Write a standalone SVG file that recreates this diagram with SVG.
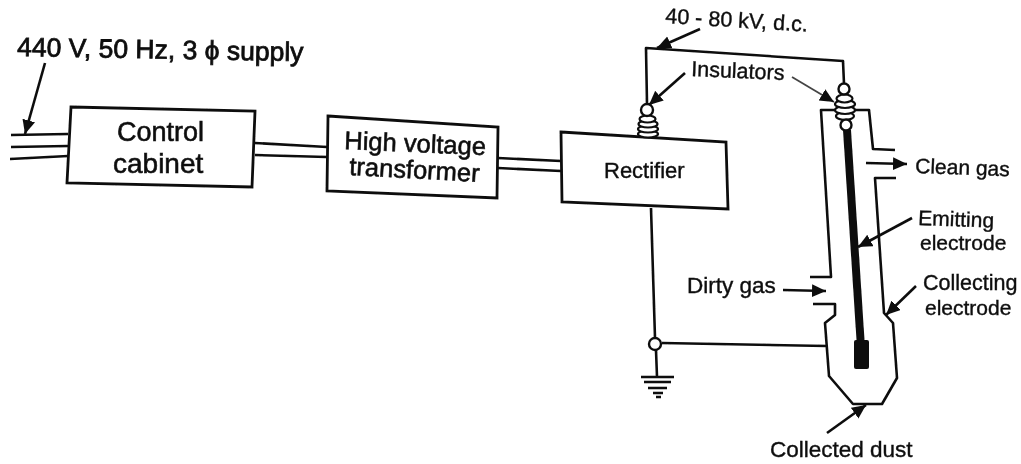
<svg xmlns="http://www.w3.org/2000/svg" width="1021" height="464" viewBox="0 0 1021 464">
<style>
.ln{fill:none;stroke:#111;stroke-width:2.600;stroke-linejoin:round}
.ar{fill:none;stroke:#111;stroke-width:2.600;marker-end:url(#ah)}
.nb{fill:#fff;stroke:#111;stroke-width:2.800}
.c{fill:#fff;stroke:#111;stroke-width:2.400}
.rib{fill:#fff;stroke:#111;stroke-width:2.200}
text{font-family:"Liberation Sans",Arial,sans-serif;fill:#111;stroke:#111;stroke-width:.4px}
.big{font-size:25.500px;stroke-width:.6px}
.sm{font-size:21.500px}
</style>
<defs>
<marker id="ah" markerUnits="userSpaceOnUse" markerWidth="16" markerHeight="14" refX="14" refY="6.500" orient="auto"><path d="M0 0L14 6.500L0 13Z" fill="#111"/></marker>
<filter id="s" x="0" y="0" width="100%" height="100%"><feGaussianBlur stdDeviation="0.45"/></filter>
</defs>
<rect width="1021" height="464" fill="#fff"/>
<g filter="url(#s)">
<g id="connectors">
<path class="ln" d="M11 135L68 134M11 147L68 146M10 159L68 156"/>
<path class="ln" d="M255 143L327 147M255 155L327 157"/>
<path class="ln" d="M498 158L561 161M498 168L561 171"/>
<path class="ln" d="M647 104L646 48L843 61L844 84"/>
<path class="ln" d="M651 208L655 338M662 343L827 346M656 350L657 377"/>
<path class="ar" d="M45 63L25 134"/>
<path class="ar" d="M700 29L657 48"/>
<path class="ar" d="M685 73L649 105"/>
<path d="M792 77L834 102" fill="none" stroke="#444" stroke-width="1.800" marker-end="url(#ah)"/>
<path class="ar" d="M866 163L907 164"/>
<path class="ar" d="M912 218L858 247"/>
<path class="ar" d="M916 286L886 315"/>
<path class="ar" d="M783 290L826 291"/>
<path class="ar" d="M827 433L866 405"/>
</g>
<g id="supply-label"><text x="17" y="56" transform="rotate(1 17 56)" style="font-size:26.500px;stroke-width:.8px">440 V, 50 Hz, 3 ϕ supply</text></g>
<g id="control-cabinet">
<path class="nb" d="M71 107L255 111L252 187L67 183Z"/>
<text class="big" x="117" y="141" style="font-size:27px">Control</text>
<text class="big" x="113" y="173" style="font-size:28px">cabinet</text>
</g>
<g id="transformer">
<path class="nb" d="M328 116L498 127L497 198L327 191Z"/>
<text class="big" x="344" y="149" transform="rotate(2.500 344 149)">High voltage</text>
<text class="big" x="349" y="175" transform="rotate(3 349 175)">transformer</text>
</g>
<g id="rectifier">
<path class="nb" d="M561 132L726 142L728 209L562 202Z"/>
<text class="sm" x="604" y="178" style="font-size:22px">Rectifier</text>
</g>
<g id="insulator-left">
<ellipse class="rib" cx="648" cy="134" rx="10" ry="3.500"/>
<ellipse class="rib" cx="648" cy="129" rx="10" ry="3.500"/>
<ellipse class="rib" cx="648" cy="124" rx="9.500" ry="3.500"/>
<ellipse class="rib" cx="647.500" cy="119" rx="8" ry="3.500"/>
<circle class="c" cx="647" cy="110" r="6"/>
</g>
<g id="precipitator">
<path class="ln" d="M810 277H831L821 110H869L873 149L895 150M896 178H875L884 313L893 323L897 378L882 404H853L829 376L825 323L835 315V304H813"/>
<path d="M843 130L851 130L864.500 340L856.500 340Z" fill="#111"/>
<rect x="854" y="340" width="15" height="29" rx="2" fill="#111"/>
</g>
<g id="insulator-right">
<ellipse class="rib" cx="845" cy="116" rx="9" ry="4"/>
<ellipse class="rib" cx="845" cy="110" rx="10" ry="4"/>
<ellipse class="rib" cx="845" cy="104" rx="10" ry="4"/>
<ellipse class="rib" cx="844.500" cy="98.500" rx="8" ry="4"/>
<circle class="c" cx="844" cy="89" r="5.500"/>
<circle class="c" cx="846" cy="125" r="5.500"/>
</g>
<g id="ground">
<circle class="c" cx="655" cy="344" r="6"/>
<path d="M641 377H674M644 382H671M648 388H667M653 393H663M656 397H661" fill="none" stroke="#111" stroke-width="2.600"/>
</g>
<g id="labels">
<text class="sm" x="665" y="23" transform="rotate(3.500 665 23)">40 - 80 kV, d.c.</text>
<text class="sm" x="691" y="76" transform="rotate(2.500 691 76)">Insulators</text>
<text class="sm" x="915" y="173" transform="rotate(2 915 173)" style="font-size:21px">Clean gas</text>
<text class="sm" x="918" y="225" transform="rotate(2 918 225)" style="font-size:21px">Emitting</text>
<text class="sm" x="920" y="250" style="font-size:21px">electrode</text>
<text class="sm" x="923" y="290">Collecting</text>
<text class="sm" x="925" y="315" style="font-size:21px">electrode</text>
<text class="sm" x="687" y="293" style="font-size:22.500px">Dirty gas</text>
<text class="sm" x="770" y="457" style="font-size:22.500px">Collected dust</text>
</g>
</g>
</svg>
